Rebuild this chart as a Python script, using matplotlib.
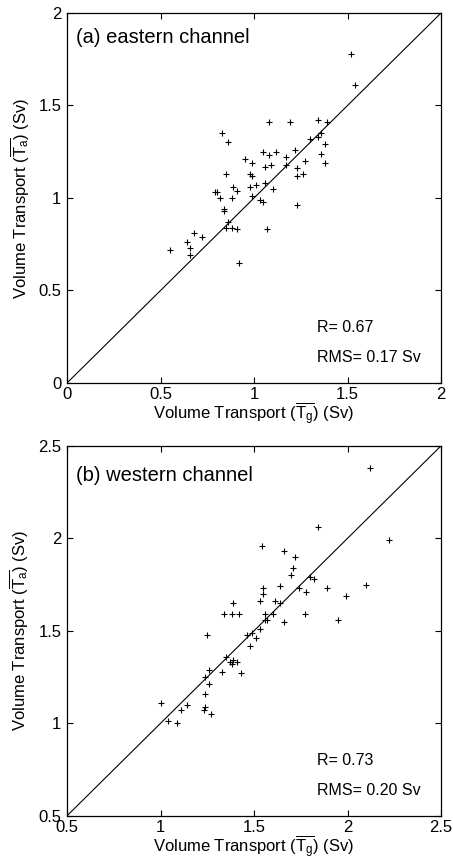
import matplotlib
matplotlib.use('Agg')
import matplotlib.pyplot as plt
import numpy as np

plt.rcParams['font.family'] = ['Liberation Sans', 'DejaVu Sans']
plt.rcParams['mathtext.fontset'] = 'custom'
plt.rcParams['mathtext.rm'] = 'Liberation Sans'
plt.rcParams['mathtext.it'] = 'Liberation Sans'

# eastern channel: geostrophic (x) vs acoustic/ADCP (y) transport, Sv
east_tg = [1.52, 1.54, 1.08, 1.19, 1.34, 1.39, 0.83, 0.86, 1.30, 1.34,
           1.36, 1.38, 1.05, 1.08, 1.12, 1.22, 0.95, 0.99, 1.17, 1.06,
           1.09, 1.17, 1.27, 1.36, 1.38, 1.23, 1.23, 1.26, 0.85, 0.98,
           0.99, 1.06, 0.98, 1.01, 0.89, 0.91, 1.10, 0.79, 0.80, 0.82,
           0.88, 0.99, 1.03, 1.05, 0.84, 0.84, 1.23, 0.86, 0.85, 0.88,
           0.91, 1.07, 0.68, 0.72, 0.64, 0.66, 0.66, 0.55, 0.92]
east_ta = [1.78, 1.61, 1.41, 1.41, 1.42, 1.41, 1.35, 1.30, 1.32, 1.33,
           1.35, 1.29, 1.25, 1.23, 1.25, 1.26, 1.21, 1.19, 1.22, 1.17,
           1.18, 1.18, 1.20, 1.24, 1.19, 1.16, 1.12, 1.13, 1.13, 1.13,
           1.12, 1.08, 1.06, 1.07, 1.06, 1.04, 1.05, 1.03, 1.03, 1.00,
           1.00, 1.01, 0.99, 0.98, 0.94, 0.93, 0.96, 0.87, 0.84, 0.84,
           0.83, 0.83, 0.81, 0.79, 0.76, 0.73, 0.69, 0.72, 0.65]

# western channel
west_tg = [2.12, 1.84, 2.22, 1.54, 1.66, 1.72, 1.71, 1.70, 1.80, 1.82,
           1.64, 1.55, 1.55, 1.74, 1.78, 1.89, 2.10, 1.99, 1.39, 1.53,
           1.61, 1.64, 1.34, 1.38, 1.42, 1.56, 1.60, 1.77, 1.56, 1.57,
           1.66, 1.95, 1.53, 1.25, 1.46, 1.49, 1.51, 1.48, 1.35, 1.37,
           1.38, 1.39, 1.41, 1.43, 1.33, 1.26, 1.24, 1.26, 1.24, 1.24,
           1.23, 1.27, 1.00, 1.11, 1.14, 1.04, 1.09]
west_ta = [2.38, 2.06, 1.99, 1.96, 1.93, 1.90, 1.84, 1.80, 1.79, 1.78,
           1.74, 1.73, 1.70, 1.73, 1.71, 1.73, 1.75, 1.69, 1.65, 1.66,
           1.66, 1.65, 1.59, 1.59, 1.59, 1.59, 1.59, 1.59, 1.56, 1.56,
           1.55, 1.56, 1.51, 1.48, 1.48, 1.49, 1.46, 1.42, 1.36, 1.33,
           1.32, 1.34, 1.33, 1.27, 1.28, 1.29, 1.25, 1.21, 1.16, 1.09,
           1.07, 1.05, 1.11, 1.07, 1.10, 1.01, 1.00]

panels = [
    dict(x=east_tg, y=east_ta, lim=(0, 2), ticks=[0, 0.5, 1, 1.5, 2],
         ticklabels=['0', '0.5', '1', '1.5', '2'],
         title='(a) eastern channel', r='R= 0.67', rms='RMS= 0.17 Sv',
         title_y=0.935, r_y=0.151, rms_y=0.070),
    dict(x=west_tg, y=west_ta, lim=(0.5, 2.5), ticks=[0.5, 1, 1.5, 2, 2.5],
         ticklabels=['0.5', '1', '1.5', '2', '2.5'],
         title='(b) western channel', r='R= 0.73', rms='RMS= 0.20 Sv',
         title_y=0.919, r_y=0.149, rms_y=0.068),
]

fig = plt.figure(figsize=(4.53, 8.61), dpi=100)
axes_rects = [[0.148, 0.5552, 0.8256, 0.4297],
              [0.148, 0.0525, 0.8256, 0.4297]]

for rect, p in zip(axes_rects, panels):
    ax = fig.add_axes(rect)
    lo, hi = p['lim']
    ax.plot([lo, hi], [lo, hi], color='black', lw=0.8)
    ax.plot(p['x'], p['y'], linestyle='none', marker='+', color='black',
            markersize=4.5, markeredgewidth=0.8)
    ax.set_xlim(lo, hi)
    ax.set_ylim(lo, hi)
    ax.set_xticks(p['ticks'])
    ax.set_yticks(p['ticks'])
    ax.set_xticklabels(p['ticklabels'])
    ax.set_yticklabels(p['ticklabels'])
    ax.tick_params(direction='in', top=True, right=True, labelsize=12,
                   length=4, width=0.8)
    ax.tick_params(axis='x', pad=3)
    ax.tick_params(axis='y', pad=4)
    for s in ax.spines.values():
        s.set_linewidth(0.9)
    ax.set_xlabel(r'Volume Transport ($\overline{\mathrm{T_g}}$) (Sv)',
                  fontsize=12, labelpad=-1)
    ax.set_ylabel(r'Volume Transport ($\overline{\mathrm{T_a}}$) (Sv)',
                  fontsize=12, labelpad=5)
    ax.text(0.024, p['title_y'], p['title'], transform=ax.transAxes,
            fontsize=14.5, va='center', ha='left')
    ax.text(0.668, p['r_y'], p['r'], transform=ax.transAxes,
            fontsize=11.5, va='center', ha='left')
    ax.text(0.668, p['rms_y'], p['rms'], transform=ax.transAxes,
            fontsize=11.5, va='center', ha='left')

fig.savefig('out.png', dpi=100)
